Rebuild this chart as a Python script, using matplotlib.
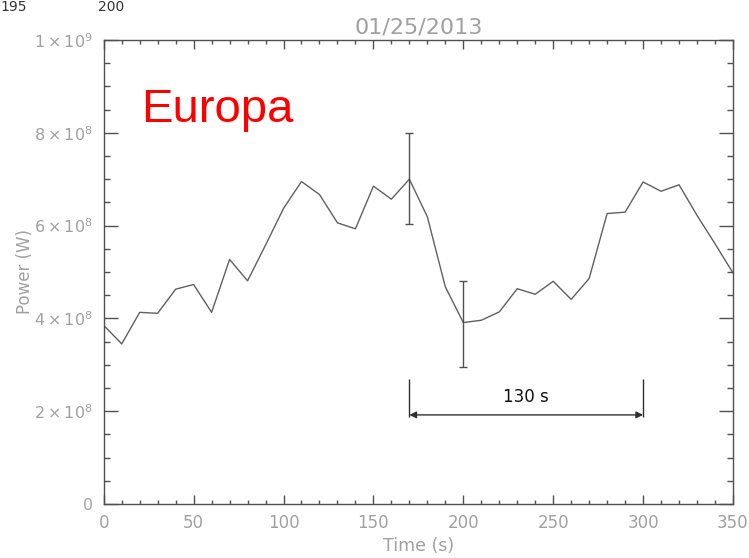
import matplotlib
matplotlib.use("Agg")
import matplotlib.pyplot as plt
from matplotlib.ticker import MultipleLocator

# time (s) and power (W)
time_s = list(range(0, 360, 10))
power_w = [3.85e8, 3.45e8, 4.13e8, 4.11e8, 4.63e8, 4.73e8, 4.13e8, 5.27e8, 4.81e8, 5.58e8,
           6.37e8, 6.95e8, 6.67e8, 6.06e8, 5.93e8, 6.85e8, 6.57e8, 7.00e8, 6.19e8, 4.68e8,
           3.91e8, 3.96e8, 4.14e8, 4.64e8, 4.52e8, 4.80e8, 4.41e8, 4.86e8, 6.26e8, 6.29e8,
           6.94e8, 6.74e8, 6.88e8, 6.22e8, 5.61e8, 4.98e8]

err_x = [170, 200]
err_y = [7.00e8, 3.91e8]
err_lo = [0.97e8, 0.95e8]
err_hi = [1.00e8, 0.89e8]

span_start, span_end = 170, 300
span_label = "130 s"

yticks = [0, 2e8, 4e8, 6e8, 8e8, 1e9]
ytick_labels = ["0", r"$2\times10^{8}$", r"$4\times10^{8}$", r"$6\times10^{8}$",
                r"$8\times10^{8}$", r"$1\times10^{9}$"]
xticks = [0, 50, 100, 150, 200, 250, 300, 350]

gray_txt = "#a0a0a0"
axis_col = "#505050"

fig = plt.figure(figsize=(7.49, 5.58), dpi=100)
ax = fig.add_axes([0.1385, 0.0968, 0.8401, 0.8315])

ax.plot(time_s, power_w, color="#606060", lw=1.0)
ax.errorbar(err_x, err_y, yerr=[err_lo, err_hi], fmt="none", ecolor="#505050",
            elinewidth=1.0, capsize=3, capthick=1.0)

# 130 s span marker
ax.vlines([span_start, span_end], 1.87e8, 2.70e8, color="#303030", lw=1.0)
ax.annotate("", xy=(span_start, 1.92e8), xytext=(span_end, 1.92e8),
            arrowprops=dict(arrowstyle="<|-|>", color="#303030", lw=1.0,
                            mutation_scale=10, shrinkA=0, shrinkB=0))
ax.text((span_start + span_end) / 2, 2.31e8, span_label, ha="center", va="center",
        fontsize=12, color="#111111")

ax.text(21, 8.23e8, "Europa", color="red", fontsize=34, family="Liberation Sans",
        ha="left", va="baseline")

ax.set_xlim(0, 350)
ax.set_ylim(0, 1e9)
ax.set_xticks(xticks)
ax.set_xticklabels([str(t) for t in xticks])
ax.set_yticks(yticks)
ax.set_yticklabels(ytick_labels)
ax.xaxis.set_minor_locator(MultipleLocator(10))
ax.yaxis.set_minor_locator(MultipleLocator(0.5e8))

ax.tick_params(axis="x", which="major", direction="in", length=6.5, width=1,
               top=True, color=axis_col, labelcolor=gray_txt, labelsize=12, pad=7)
ax.tick_params(axis="x", which="minor", direction="in", length=3, width=1,
               top=True, color=axis_col)
ax.tick_params(axis="y", which="major", direction="in", length=10, width=1,
               right=True, color=axis_col, labelcolor=gray_txt, labelsize=11.5, pad=8)
ax.tick_params(axis="y", which="minor", direction="in", length=4.5, width=1,
               right=True, color=axis_col)
for s in ax.spines.values():
    s.set_color(axis_col)
    s.set_linewidth(1.0)

ax.set_xlabel("Time (s)", color=gray_txt, fontsize=12.5, labelpad=4)
ax.set_ylabel("Power (W)", color=gray_txt, fontsize=12, labelpad=0)
ax.set_title("01/25/2013", color=gray_txt, fontsize=16, pad=5)

# labels from a neighbouring panel, sitting at the top edge
fig.text(0.0, 1.0, "195", color="#333333", fontsize=10, ha="left", va="top")
fig.text(0.131, 1.0, "200", color="#333333", fontsize=10, ha="left", va="top")

fig.savefig("out.png", dpi=100)
